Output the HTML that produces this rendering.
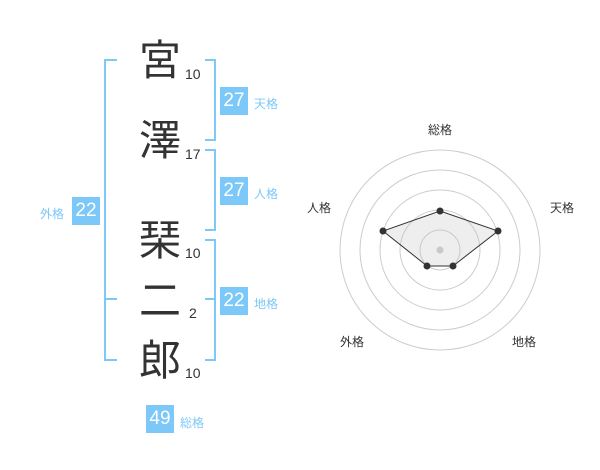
<!DOCTYPE html>
<html><head><meta charset="utf-8"><style>
body{margin:0;width:600px;height:470px;background:#fff;position:relative;font-family:"Liberation Sans","Noto Sans CJK JP",sans-serif;overflow:hidden}
.k{position:absolute;font-size:42px;color:#333;width:50px;text-align:center;line-height:50px}
.n{position:absolute;font-size:14px;color:#333;line-height:14px}
.b{position:absolute;width:28px;height:28px;background:#7cc8f8;color:#fff;font-size:19px;line-height:28px;text-align:center}
.l{position:absolute;font-size:12px;color:#7cc8f8;line-height:14px}
.r{position:absolute;font-size:12px;color:#333;line-height:14px}
</style></head><body>
<svg width="600" height="470" style="position:absolute;left:0;top:0">
<g stroke="#7cc8f8" stroke-width="2" fill="none">
<path d="M117 60H105V360H117M105 299H117"/>
<path d="M205 60H215V140H205"/>
<path d="M205 150H215V230H205"/>
<path d="M205 240H215V360H205M205 299H215"/>
</g>
<g stroke="#ccc" fill="none">
<circle cx="440" cy="250" r="20"/><circle cx="440" cy="250" r="40"/><circle cx="440" cy="250" r="60"/><circle cx="440" cy="250" r="80"/><circle cx="440" cy="250" r="100"/>
</g>
<circle cx="440" cy="250" r="3.5" fill="#ccc"/>
<polygon points="440,211 498,231 453,266 427,266 383,231" fill="rgba(200,200,200,0.3)" stroke="#333" stroke-width="1"/>
<g fill="#333"><circle cx="440" cy="211" r="3.5"/><circle cx="498" cy="231" r="3.5"/><circle cx="453" cy="266" r="3.5"/><circle cx="427" cy="266" r="3.5"/><circle cx="383" cy="231" r="3.5"/></g>
</svg>
<div class="k" style="left:135px;top:36px">宮</div><div class="n" style="left:185px;top:67px">10</div>
<div class="k" style="left:135px;top:116px">澤</div><div class="n" style="left:185px;top:147px">17</div>
<div class="k" style="left:135px;top:216px">琹</div><div class="n" style="left:185px;top:246px">10</div>
<div class="k" style="left:135px;top:276px">二</div><div class="n" style="left:189px;top:306px">2</div>
<div class="k" style="left:135px;top:336px">郎</div><div class="n" style="left:185px;top:366px">10</div>
<div class="b" style="left:220px;top:87px">27</div><div class="l" style="left:254px;top:97px">天格</div>
<div class="b" style="left:220px;top:177px">27</div><div class="l" style="left:254px;top:187px">人格</div>
<div class="b" style="left:220px;top:287px">22</div><div class="l" style="left:254px;top:297px">地格</div>
<div class="b" style="left:72px;top:197px">22</div><div class="l" style="left:40px;top:207px">外格</div>
<div class="b" style="left:146px;top:405px">49</div><div class="l" style="left:180px;top:416px">総格</div>
<div class="r" style="left:428px;top:123px">総格</div>
<div class="r" style="left:550px;top:201px">天格</div>
<div class="r" style="left:307px;top:201px">人格</div>
<div class="r" style="left:340px;top:335px">外格</div>
<div class="r" style="left:512px;top:335px">地格</div>
</body></html>
